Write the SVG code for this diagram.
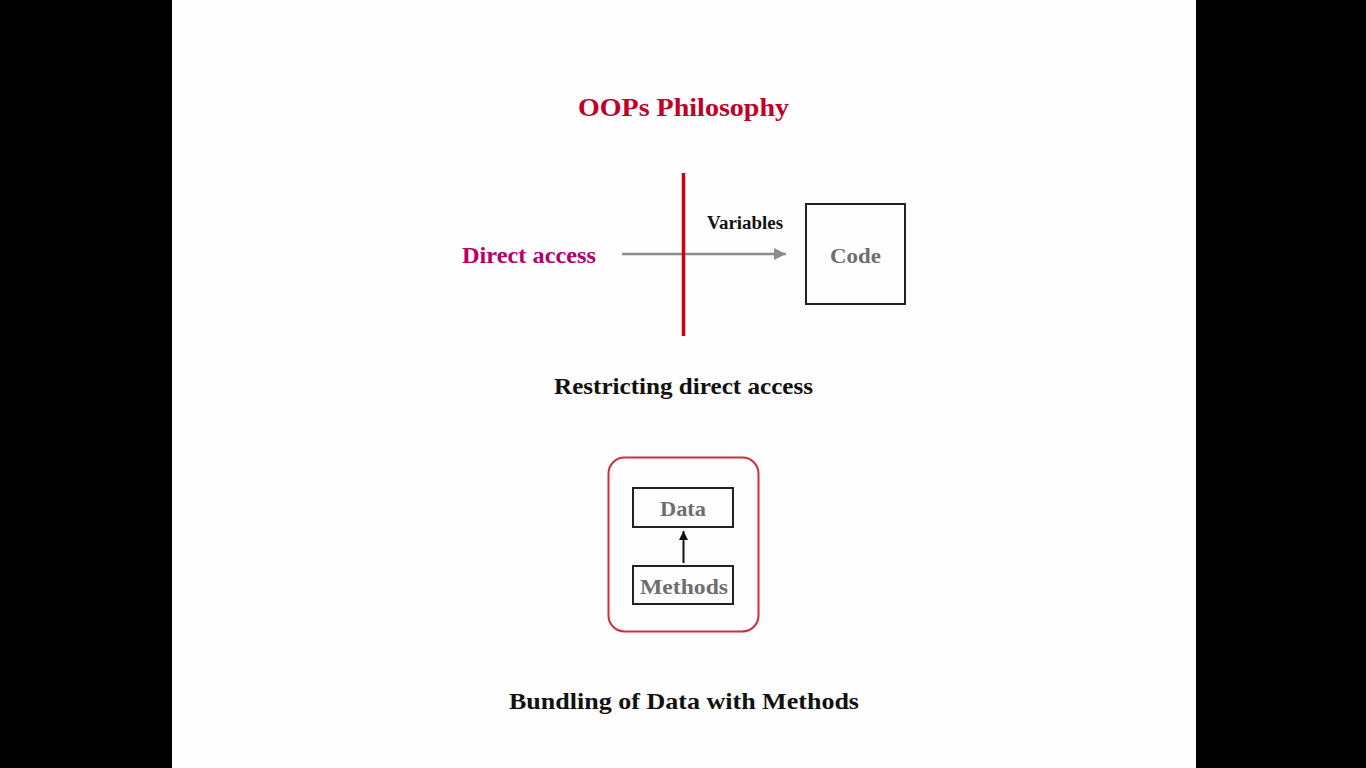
<svg xmlns="http://www.w3.org/2000/svg" width="1366" height="768" viewBox="0 0 1366 768">
<style>
text{font-family:"Liberation Serif","Times New Roman",serif;font-weight:bold;text-anchor:middle}
.box{fill:none;stroke:#222;stroke-width:2}
.gray{fill:#6e6e6e}
</style>
<defs>
<marker id="ag" viewBox="0 0 10 10" refX="10" refY="5" markerWidth="13" markerHeight="12" markerUnits="userSpaceOnUse" orient="auto"><path d="M0,0 L10,5 L0,10 z" fill="#8c8c8c"/></marker>
<marker id="ab" viewBox="0 0 10 10" refX="10" refY="5" markerWidth="10" markerHeight="9" markerUnits="userSpaceOnUse" orient="auto"><path d="M0,0 L10,5 L0,10 z" fill="#111"/></marker>
</defs>
<rect x="0" y="0" width="1366" height="768" fill="#000"/>
<rect x="172" y="0" width="1024" height="768" fill="#fdfdfd"/>
<text x="683.5" y="116" font-size="26" fill="#c0002a" textLength="211" lengthAdjust="spacingAndGlyphs">OOPs Philosophy</text>
<g id="connectors">
<line x1="622" y1="254" x2="786" y2="254" stroke="#8c8c8c" stroke-width="2.5" marker-end="url(#ag)"/>
<line x1="683.5" y1="563" x2="683.5" y2="531" stroke="#111" stroke-width="2" marker-end="url(#ab)"/>
</g>
<g id="barrier"><line x1="683.5" y1="173" x2="683.5" y2="336" stroke="#d20010" stroke-width="3.5"/></g>
<g id="direct"><text x="529" y="263" font-size="23" fill="#b3006c" textLength="134" lengthAdjust="spacingAndGlyphs">Direct access</text></g>
<g id="variables"><text x="745" y="229" font-size="18" fill="#111" textLength="76" lengthAdjust="spacingAndGlyphs">Variables</text></g>
<g id="code"><rect class="box" x="806" y="204" width="99" height="100"/><text x="855.5" y="263" font-size="22" class="gray" textLength="51" lengthAdjust="spacingAndGlyphs">Code</text></g>
<text x="683.5" y="394" font-size="23" fill="#111" textLength="259" lengthAdjust="spacingAndGlyphs">Restricting direct access</text>
<g id="bundle"><rect x="608.5" y="457.5" width="150" height="174" rx="16" fill="none" stroke="#d42a3e" stroke-width="2"/></g>
<g id="data"><rect class="box" x="633" y="488" width="100" height="39"/><text x="683" y="516" font-size="22" class="gray" textLength="46" lengthAdjust="spacingAndGlyphs">Data</text></g>
<g id="methods"><rect class="box" x="633" y="566" width="100" height="38"/><text x="684" y="594" font-size="22" class="gray" textLength="88" lengthAdjust="spacingAndGlyphs">Methods</text></g>
<text x="684" y="709" font-size="23" fill="#111" textLength="350" lengthAdjust="spacingAndGlyphs">Bundling of Data with Methods</text>
</svg>
